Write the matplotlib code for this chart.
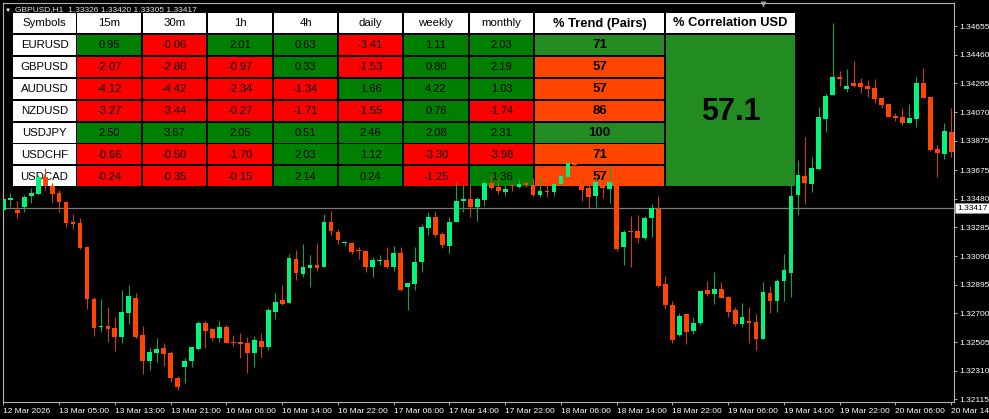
"""GBPUSD H1 chart (MetaTrader style) with a USD trend/correlation table on top."""

import matplotlib

matplotlib.use("Agg")
import matplotlib.pyplot as plt
import matplotlib.transforms as mtransforms
import numpy as np
from matplotlib.patches import Rectangle

plt.rcParams["font.family"] = ["Liberation Sans", "DejaVu Sans"]

# --- Velas H1 (12 Mar 21:00 -> 20 Mar 14:00) ---------------------------------
opens = [
    1.33403, 1.33471, 1.33403, 1.33424, 1.33498, 1.33512, 1.33628, 1.33566, 1.33519, 1.33458,
    1.33321, 1.33315, 1.33154, 1.32798, 1.32607, 1.32613, 1.32600, 1.32538, 1.32702, 1.32804,
    1.32552, 1.32376, 1.32430, 1.32463, 1.32430, 1.32260, 1.32334, 1.32376, 1.32457, 1.32634,
    1.32593, 1.32531, 1.32607, 1.32504, 1.32504, 1.32497, 1.32430, 1.32511, 1.32470, 1.32709,
    1.32791, 1.32770, 1.33072, 1.32969, 1.33011, 1.33031, 1.33017, 1.33321, 1.33254, 1.33181,
    1.33181, 1.33133, 1.33126, 1.33017, 1.33058, 1.33065, 1.33017, 1.33113, 1.32880, 1.32901,
    1.33051, 1.33281, 1.33355, 1.33240, 1.33160, 1.33321, 1.33464, 1.33478, 1.33424, 1.33471,
    1.33587, 1.33559, 1.33526, 1.33573, 1.33559, 1.33587, 1.33573, 1.33505, 1.33532, 1.33526,
    1.33580, 1.33628, 1.33723, 1.33573, 1.33553, 1.33498, 1.33573, 1.33546, 1.33573, 1.33154,
    1.33260, 1.33260, 1.33213, 1.33349, 1.33410, 1.32901, 1.32757, 1.32552, 1.32695, 1.32579,
    1.32634, 1.32860, 1.32832, 1.32867, 1.32811, 1.32723, 1.32627, 1.32648, 1.32641, 1.32524,
    1.32839, 1.32784, 1.32921, 1.32976, 1.33505, 1.33634, 1.33580, 1.33682, 1.34022, 1.34186,
    1.34308, 1.34226, 1.34267, 1.34267, 1.34247, 1.34233, 1.34165, 1.34124, 1.34043, 1.34036,
    1.33995, 1.34022, 1.34267, 1.34172, 1.33818, 1.33784, 1.33934,
]
highs = [
    1.33492, 1.33519, 1.33464, 1.33505, 1.33553, 1.33641, 1.33689, 1.33587, 1.33539, 1.33464,
    1.33376, 1.33349, 1.33154, 1.32811, 1.32798, 1.32743, 1.32675, 1.32860, 1.32894, 1.32839,
    1.32613, 1.32470, 1.32531, 1.32497, 1.32443, 1.32273, 1.32396, 1.32470, 1.32648, 1.32648,
    1.32600, 1.32648, 1.32620, 1.32552, 1.32565, 1.32538, 1.32545, 1.32565, 1.32736, 1.32839,
    1.32894, 1.33106, 1.33133, 1.33174, 1.33099, 1.33181, 1.33376, 1.33396, 1.33274, 1.33194,
    1.33188, 1.33154, 1.33126, 1.33085, 1.33099, 1.33154, 1.33160, 1.33154, 1.32908, 1.33154,
    1.33308, 1.33390, 1.33396, 1.33254, 1.33355, 1.33594, 1.33573, 1.33573, 1.33492, 1.33594,
    1.33641, 1.33628, 1.33573, 1.33580, 1.33614, 1.33600, 1.33621, 1.33621, 1.33573, 1.33587,
    1.33655, 1.33730, 1.33737, 1.33621, 1.33587, 1.33634, 1.33607, 1.33709, 1.33587, 1.33267,
    1.33362, 1.33369, 1.33362, 1.33444, 1.33498, 1.32955, 1.32784, 1.32702, 1.32695, 1.32675,
    1.32853, 1.32921, 1.32983, 1.32915, 1.32818, 1.32743, 1.32770, 1.32743, 1.32695, 1.32915,
    1.32887, 1.32935, 1.33106, 1.33587, 1.33743, 1.33900, 1.33764, 1.34104, 1.34199, 1.34676,
    1.34349, 1.34362, 1.34417, 1.34301, 1.34288, 1.34295, 1.34165, 1.34124, 1.34063, 1.34097,
    1.34124, 1.34308, 1.34369, 1.34172, 1.33845, 1.33995, 1.34097,
]
lows = [
    1.33390, 1.33424, 1.33349, 1.33390, 1.33451, 1.33505, 1.33539, 1.33458, 1.33390, 1.33287,
    1.33274, 1.33140, 1.32730, 1.32545, 1.32572, 1.32504, 1.32443, 1.32497, 1.32627, 1.32531,
    1.32287, 1.32314, 1.32369, 1.32341, 1.32233, 1.32178, 1.32226, 1.32334, 1.32450, 1.32463,
    1.32511, 1.32504, 1.32497, 1.32477, 1.32396, 1.32293, 1.32334, 1.32403, 1.32450, 1.32661,
    1.32757, 1.32770, 1.32928, 1.32949, 1.32880, 1.32990, 1.33017, 1.33233, 1.33174, 1.33160,
    1.33106, 1.33072, 1.32983, 1.32949, 1.33031, 1.33011, 1.32990, 1.32853, 1.32723, 1.32860,
    1.32983, 1.33233, 1.33220, 1.33147, 1.33113, 1.33321, 1.33390, 1.33355, 1.33328, 1.33430,
    1.33546, 1.33512, 1.33498, 1.33532, 1.33553, 1.33559, 1.33498, 1.33492, 1.33492, 1.33498,
    1.33566, 1.33628, 1.33702, 1.33464, 1.33417, 1.33424, 1.33485, 1.33451, 1.33126, 1.33031,
    1.33017, 1.33181, 1.33202, 1.33220, 1.32880, 1.32736, 1.32497, 1.32545, 1.32490, 1.32558,
    1.32620, 1.32818, 1.32764, 1.32804, 1.32675, 1.32613, 1.32607, 1.32497, 1.32450, 1.32524,
    1.32702, 1.32709, 1.32784, 1.32811, 1.33369, 1.33444, 1.33526, 1.33675, 1.33934, 1.34186,
    1.34247, 1.34206, 1.34240, 1.34199, 1.34172, 1.34131, 1.34097, 1.34036, 1.34009, 1.33982,
    1.33995, 1.33968, 1.34165, 1.33806, 1.33628, 1.33750, 1.33764,
]
closes = [
    1.33478, 1.33485, 1.33383, 1.33492, 1.33519, 1.33628, 1.33566, 1.33512, 1.33458, 1.33315,
    1.33308, 1.33147, 1.32798, 1.32600, 1.32613, 1.32593, 1.32538, 1.32709, 1.32818, 1.32538,
    1.32376, 1.32437, 1.32457, 1.32423, 1.32260, 1.32199, 1.32376, 1.32470, 1.32634, 1.32579,
    1.32531, 1.32607, 1.32497, 1.32497, 1.32490, 1.32430, 1.32518, 1.32470, 1.32723, 1.32777,
    1.32764, 1.33079, 1.32976, 1.33017, 1.33031, 1.33011, 1.33321, 1.33260, 1.33202, 1.33188,
    1.33120, 1.33126, 1.33017, 1.33065, 1.33065, 1.33017, 1.33113, 1.32860, 1.32908, 1.33051,
    1.33287, 1.33355, 1.33233, 1.33167, 1.33321, 1.33464, 1.33478, 1.33424, 1.33478, 1.33587,
    1.33553, 1.33532, 1.33546, 1.33566, 1.33580, 1.33573, 1.33505, 1.33532, 1.33526, 1.33580,
    1.33634, 1.33723, 1.33709, 1.33539, 1.33492, 1.33594, 1.33553, 1.33594, 1.33140, 1.33254,
    1.33254, 1.33213, 1.33349, 1.33417, 1.32887, 1.32757, 1.32518, 1.32682, 1.32572, 1.32634,
    1.32853, 1.32832, 1.32867, 1.32804, 1.32709, 1.32627, 1.32675, 1.32634, 1.32524, 1.32846,
    1.32784, 1.32921, 1.32997, 1.33498, 1.33641, 1.33587, 1.33689, 1.34036, 1.34179, 1.34308,
    1.34295, 1.34247, 1.34247, 1.34240, 1.34226, 1.34158, 1.34118, 1.34036, 1.34029, 1.33995,
    1.34029, 1.34267, 1.34165, 1.33811, 1.33791, 1.33941, 1.33798,
]

time_labels = [
    "12 Mar 2026", "13 Mar 05:00", "13 Mar 13:00", "13 Mar 21:00", "16 Mar 06:00",
    "16 Mar 14:00", "16 Mar 22:00", "17 Mar 06:00", "17 Mar 14:00", "17 Mar 22:00",
    "18 Mar 06:00", "18 Mar 14:00", "18 Mar 22:00", "19 Mar 06:00", "19 Mar 14:00",
    "19 Mar 22:00", "20 Mar 06:00", "20 Mar 14:00",
]
price_labels = [
    "1.34655", "1.34460", "1.34265", "1.34070", "1.33875", "1.33675", "1.33480",
    "1.33285", "1.33090", "1.32895", "1.32700", "1.32505", "1.32310", "1.32115",
]
bid = 1.33417
titulo = "GBPUSD,H1  1.33326 1.33420 1.33305 1.33417"

# --- Tabla de fuerza USD ------------------------------------------------------
symbols = ["EURUSD", "GBPUSD", "AUDUSD", "NZDUSD", "USDJPY", "USDCHF", "USDCAD"]
timeframes = ["15m", "30m", "1h", "4h", "daily", "weekly", "monthly"]
chg_15m = [0.95, -2.07, -4.12, -3.27, 2.50, -0.66, -0.24]
chg_30m = [-0.06, -2.80, -4.42, -3.44, 3.67, -0.50, -0.35]
chg_1h = [2.01, -0.97, -2.34, -0.27, 2.05, -1.70, -0.15]
chg_4h = [0.63, 0.33, -1.34, -1.71, 0.51, 2.03, 2.14]
chg_daily = [-3.41, -1.53, 1.66, -1.55, 2.46, 1.12, 0.24]
chg_weekly = [1.11, 0.80, 4.22, 0.78, 2.08, -3.30, -1.25]
chg_monthly = [2.03, 2.19, 1.03, -1.74, 2.31, -3.98, 1.36]
trend_pct = [71, 57, 57, 86, 100, 71, 57]
trend_up = [True, False, False, False, True, False, False]
correlation_usd = 57.1

# --- Figura -------------------------------------------------------------------
W, H = 989, 419
fig = plt.figure(figsize=(W / 100, H / 100), dpi=100, facecolor="black")

# capa de fondo en píxeles (tabla, título)
tab = fig.add_axes([0, 0, 1, 1], zorder=0)
tab.set_xlim(0, W)
tab.set_ylim(H, 0)
tab.axis("off")
tab.patch.set_visible(False)

# gráfico de velas
ax = fig.add_axes([3 / W, 1 - 402 / H, 951 / W, 399 / H], zorder=1)
ax.patch.set_visible(False)

o = np.array(opens)
h = np.array(highs)
l = np.array(lows)
c = np.array(closes)
x = np.arange(len(o))
up = c > o
cuerpo_base = np.minimum(o, c)
cuerpo_alto = np.maximum(np.abs(c - o), 0.00006)

ax.axhline(bid, color="#7a7a7a", lw=0.9, zorder=1)
ax.vlines(x[up], l[up], h[up], color="#12a24e", lw=0.8, zorder=2)
ax.vlines(x[~up], l[~up], h[~up], color="#c8400c", lw=0.8, zorder=2)
ax.bar(x[up], cuerpo_alto[up], bottom=cuerpo_base[up], width=0.68,
       color="#00f57a", lw=0, zorder=3)
ax.bar(x[~up], cuerpo_alto[~up], bottom=cuerpo_base[~up], width=0.68,
       color="#ff4500", lw=0, zorder=3)

ax.set_xlim(-0.05, 136.4)
ax.set_ylim(1.32097, 1.34812)

for lado, spine in ax.spines.items():
    spine.set_color("#b4b4b4")
    spine.set_linewidth(0.8)

ax.yaxis.tick_right()
ax.set_yticks([float(p) for p in price_labels], price_labels)
ax.set_xticks(np.arange(0, len(o), 8), time_labels, ha="left")
ax.tick_params(axis="both", colors="#b4b4b4", labelcolor="white",
               labelsize=6, length=2.5, width=0.7, direction="out", pad=1.5)

mezcla = mtransforms.blended_transform_factory(ax.transAxes, ax.transData)
ax.text(1.003, bid, "1.33417", transform=mezcla, ha="left", va="center",
        fontsize=6, color="black", clip_on=False,
        bbox=dict(boxstyle="square,pad=0.18", fc="white", ec="#909090", lw=0.5))

# título y marcadores
tab.text(8, 10, "▼", fontsize=4.5, color="white", ha="center", va="center")
tab.text(15, 9.5, titulo, fontsize=6, color="#e8e8e8", ha="left", va="center")
tab.plot(763, 4.5, marker="v", color="#9a9a9a", ms=4, mec="none")

# tabla
VERDE, ROJO = "#008000", "#ff0000"
VERDE_T, NARANJA_T = "#228b22", "#ff4500"
col_x = [13, 77, 143, 208, 274, 339, 404, 470, 535, 666]
col_w = [63, 64, 63, 64, 63, 63, 64, 63, 129, 129]
fila_y = [13 + 21.9 * i for i in range(8)]
fila_h = 20

def celda(col, fila, color, texto, **kw):
    tab.add_patch(Rectangle((col_x[col], fila_y[fila]), col_w[col], fila_h,
                            fc=color, ec="none"))
    tab.text(col_x[col] + col_w[col] / 2, fila_y[fila] + fila_h / 2 + 0.5, texto,
             ha="center", va="center", color="black", **kw)

cabecera = ["Symbols"] + timeframes
for j, txt in enumerate(cabecera):
    celda(j, 0, "white", txt, fontsize=8.2)
celda(8, 0, "white", "% Trend (Pairs)", fontsize=9.3, fontweight="bold")
celda(9, 0, "white", "% Correlation USD", fontsize=9.3, fontweight="bold")

columnas = [chg_15m, chg_30m, chg_1h, chg_4h, chg_daily, chg_weekly, chg_monthly]
for i, sym in enumerate(symbols):
    celda(0, i + 1, "white", sym, fontsize=8.2)
    for j, serie in enumerate(columnas):
        v = serie[i]
        celda(j + 1, i + 1, VERDE if v >= 0 else ROJO, f"{v:.2f}", fontsize=8)
    celda(8, i + 1, VERDE_T if trend_up[i] else NARANJA_T, str(trend_pct[i]),
          fontsize=9.5, fontweight="bold")

top_c = fila_y[1]
alto_c = fila_y[7] + fila_h - top_c
tab.add_patch(Rectangle((col_x[9], top_c), col_w[9], alto_c, fc=VERDE_T, ec="none"))
tab.text(col_x[9] + col_w[9] / 2, top_c + alto_c / 2 + 1, f"{correlation_usd:.1f}",
         ha="center", va="center", fontsize=22, fontweight="bold", color="black")

fig.savefig("out.png", dpi=100, facecolor="black")
